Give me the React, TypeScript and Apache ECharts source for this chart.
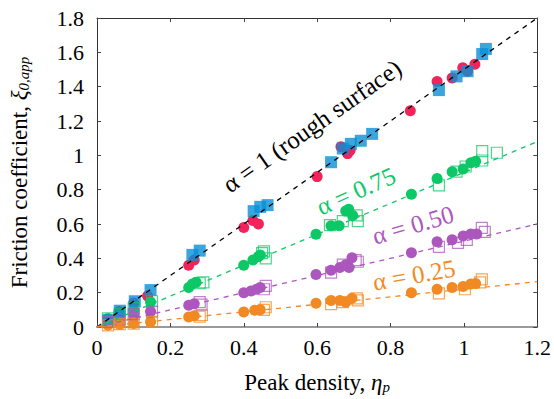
import React, { useEffect, useRef } from "react";
import * as echarts from "echarts";

const X_TICKS = [0, 0.2, 0.4, 0.6, 0.8, 1, 1.2];
const Y_TICKS = [0, 0.2, 0.4, 0.6, 0.8, 1, 1.2, 1.4, 1.6, 1.8];

const SLOPES = { a100: 1.5, a075: 0.9, a050: 0.5, a025: 0.22 };

const redCircles = [
  [0.03, 0.04], [0.06, 0.09], [0.1, 0.14], [0.138, 0.18],
  [0.25, 0.36], [0.265, 0.39],
  [0.4, 0.58], [0.425, 0.62], [0.44, 0.6],
  [0.6, 0.876], [0.665, 1.05], [0.683, 1.01], [0.69, 1.03],
  [0.854, 1.26], [0.927, 1.43], [0.968, 1.45], [0.997, 1.51], [1.01, 1.49], [1.03, 1.53],
];
const blueSquares = [
  [0.03, 0.04], [0.062, 0.095], [0.103, 0.15], [0.146, 0.215],
  [0.26, 0.42], [0.28, 0.445],
  [0.427, 0.675], [0.445, 0.7], [0.465, 0.71],
  [0.638, 0.96], [0.67, 1.04], [0.692, 1.067], [0.719, 1.085], [0.75, 1.125],
  [0.932, 1.38], [0.98, 1.46], [1.01, 1.49], [1.05, 1.59], [1.06, 1.62],
];
const greenCircles = [
  [0.03, 0.05], [0.062, 0.07], [0.1, 0.1], [0.146, 0.145],
  [0.25, 0.23], [0.26, 0.25], [0.27, 0.26],
  [0.4, 0.36], [0.425, 0.39], [0.44, 0.41], [0.445, 0.42],
  [0.597, 0.54], [0.638, 0.59], [0.66, 0.59], [0.678, 0.675], [0.686, 0.686], [0.697, 0.65],
  [0.857, 0.773], [0.927, 0.865], [0.968, 0.905], [0.998, 0.92], [1.019, 0.957], [1.032, 0.965],
];
const greenSquares = [
  [0.03, 0.05], [0.062, 0.075], [0.1, 0.11], [0.15, 0.15],
  [0.28, 0.255], [0.29, 0.26],
  [0.455, 0.44], [0.46, 0.4], [0.45, 0.43],
  [0.635, 0.594], [0.67, 0.617], [0.711, 0.617], [0.708, 0.65],
  [0.932, 0.825], [0.98, 0.905], [1.005, 0.935], [1.05, 0.97], [1.05, 1.025], [1.09, 1.015],
];
const purpleCircles = [
  [0.03, 0.03], [0.062, 0.045], [0.1, 0.07], [0.146, 0.09],
  [0.25, 0.127], [0.265, 0.135],
  [0.4, 0.2], [0.42, 0.21], [0.435, 0.22], [0.445, 0.23],
  [0.597, 0.306], [0.638, 0.33], [0.662, 0.346], [0.678, 0.363], [0.695, 0.404], [0.687, 0.346],
  [0.857, 0.432], [0.927, 0.496], [0.968, 0.508], [0.998, 0.53], [1.019, 0.542], [1.035, 0.542],
];
const purpleSquares = [
  [0.03, 0.03], [0.062, 0.045], [0.1, 0.075], [0.15, 0.09],
  [0.28, 0.145], [0.285, 0.13],
  [0.46, 0.24], [0.455, 0.22],
  [0.638, 0.317], [0.67, 0.363], [0.711, 0.38], [0.705, 0.39],
  [0.932, 0.467], [0.984, 0.49], [1.008, 0.507], [1.049, 0.577], [1.057, 0.554],
];
const orangeCircles = [
  [0.03, 0.01], [0.062, 0.015], [0.1, 0.02], [0.146, 0.03],
  [0.25, 0.058], [0.265, 0.065],
  [0.4, 0.087], [0.43, 0.097], [0.445, 0.1],
  [0.597, 0.138], [0.638, 0.155], [0.662, 0.155], [0.678, 0.144], [0.695, 0.167],
  [0.857, 0.2], [0.927, 0.22], [0.968, 0.23], [0.998, 0.236], [1.019, 0.25], [1.032, 0.253],
];
const orangeSquares = [
  [0.03, 0.01], [0.062, 0.017], [0.1, 0.02], [0.15, 0.03],
  [0.286, 0.07], [0.28, 0.06],
  [0.46, 0.115], [0.455, 0.1],
  [0.638, 0.133], [0.67, 0.145], [0.708, 0.167], [0.711, 0.155],
  [0.932, 0.196], [1.003, 0.22], [1.049, 0.277], [1.044, 0.26],
];

const RED = "#f0245a";
const BLUE = "#0a8ed6";
const GREEN = "#0cc866";
const PURPLE = "#ac57bd";
const ORANGE = "#f28a24";
const FONT = "'Liberation Serif', 'Times New Roman', serif";

function fitLine(slope: number) {
  return [[0, 0], [1.2, slope * 1.2]];
}

export default function App() {
  const ref = useRef<HTMLDivElement>(null);
  useEffect(() => {
    if (!ref.current) return;
    const chart = echarts.init(ref.current, undefined, { renderer: "svg" });
    const xmin = X_TICKS[0], xmax = X_TICKS[X_TICKS.length - 1];
    const ymin = Y_TICKS[0], ymax = Y_TICKS[Y_TICKS.length - 1];
    const tickStyle = { inside: true, length: 4, lineStyle: { color: "#444", width: 1 } };
    const dashLine = (slope: number, color: string) => ({
      type: "line",
      data: fitLine(slope),
      symbol: "none",
      z: 6,
      lineStyle: { color, width: 1.3, type: [5, 5] },
      silent: true,
    });
    const circles = (data: number[][], color: string, z = 2) => ({
      type: "scatter",
      data,
      symbol: "circle",
      symbolSize: 11,
      z,
      itemStyle: { color, opacity: 1 },
    });
    const openSquares = (data: number[][], color: string) => ({
      type: "scatter",
      data,
      symbol: "rect",
      symbolSize: 11,
      z: 3,
      itemStyle: { color: "rgba(255,255,255,0)", borderColor: color, borderWidth: 1.2, opacity: 0.75 },
    });
    const rich = {
      t: { fontFamily: FONT, fontSize: 23, color: "#000" },
      i: { fontFamily: FONT, fontSize: 23, fontStyle: "italic", color: "#000" },
      s: { fontFamily: FONT, fontSize: 15, fontStyle: "italic", color: "#000", verticalAlign: "bottom", padding: [8, 0, 0, 0] },
    };
    const annot = (text: string, x: number, y: number, deg: number, color: string) => ({
      type: "text",
      x,
      y,
      rotation: (deg * Math.PI) / 180,
      z: 10,
      style: {
        text,
        fill: color,
        font: `25px ${FONT}`,
        align: "center",
        verticalAlign: "middle",
      },
    });
    chart.setOption({
      animation: false,
      grid: { left: 94, right: 16, top: 18, bottom: 69 },
      xAxis: [
        {
          type: "value", min: xmin, max: xmax, interval: 0.2, position: "bottom",
          axisLine: { show: true, onZero: false, lineStyle: { color: "#999", width: 2 } },
          axisTick: tickStyle,
          axisLabel: { fontFamily: FONT, fontSize: 22, color: "#000", margin: 9 },
          splitLine: { show: false },
          name: "{t|Peak density, }{i|η}{s|p}",
          nameLocation: "middle",
          nameGap: 44,
          nameTextStyle: { rich },
        },
        {
          type: "value", min: xmin, max: xmax, interval: 0.2, position: "top",
          axisLine: { show: true, onZero: false, lineStyle: { color: "#333", width: 1 } },
          axisTick: tickStyle,
          axisLabel: { show: false },
          splitLine: { show: false },
        },
      ],
      yAxis: [
        {
          type: "value", min: ymin, max: ymax, interval: 0.2, position: "left",
          axisLine: { show: true, onZero: false, lineStyle: { color: "#333", width: 1 } },
          axisTick: tickStyle,
          axisLabel: { fontFamily: FONT, fontSize: 22, color: "#000", margin: 13 },
          splitLine: { show: false },
          name: "{t|Friction coefficient, }{i|ξ}{s|0,app}",
          nameLocation: "middle",
          nameGap: 66,
          nameTextStyle: { rich },
        },
        {
          type: "value", min: ymin, max: ymax, interval: 0.2, position: "right",
          axisLine: { show: true, onZero: false, lineStyle: { color: "#333", width: 1 } },
          axisTick: tickStyle,
          axisLabel: { show: false },
          splitLine: { show: false },
        },
      ],
      series: [
        circles(redCircles, RED, 2),
        circles(greenCircles, GREEN, 2),
        circles(purpleCircles, PURPLE, 2),
        circles(orangeCircles, ORANGE, 2),
        { type: "scatter", data: blueSquares, symbol: "rect", symbolSize: 12, z: 3, itemStyle: { color: BLUE } },
        openSquares(greenSquares, GREEN),
        openSquares(purpleSquares, PURPLE),
        openSquares(orangeSquares, ORANGE),
        dashLine(SLOPES.a100, "#000"),
        dashLine(SLOPES.a075, GREEN),
        dashLine(SLOPES.a050, PURPLE),
        dashLine(SLOPES.a025, ORANGE),
      ],
      graphic: [
        annot("α = 1 (rough surface)", 312, 126, 35, "#000"),
        annot("α = 0.75", 356, 191, 24, GREEN),
        annot("α = 0.50", 413, 225, 16, PURPLE),
        annot("α = 0.25", 414, 275, 10, ORANGE),
      ],
    });
    return () => chart.dispose();
  }, []);
  return (
    <div
      ref={ref}
      style={{ position: "fixed", left: 0, top: 0, width: 554, height: 399, background: "#fff" }}
    />
  );
}
